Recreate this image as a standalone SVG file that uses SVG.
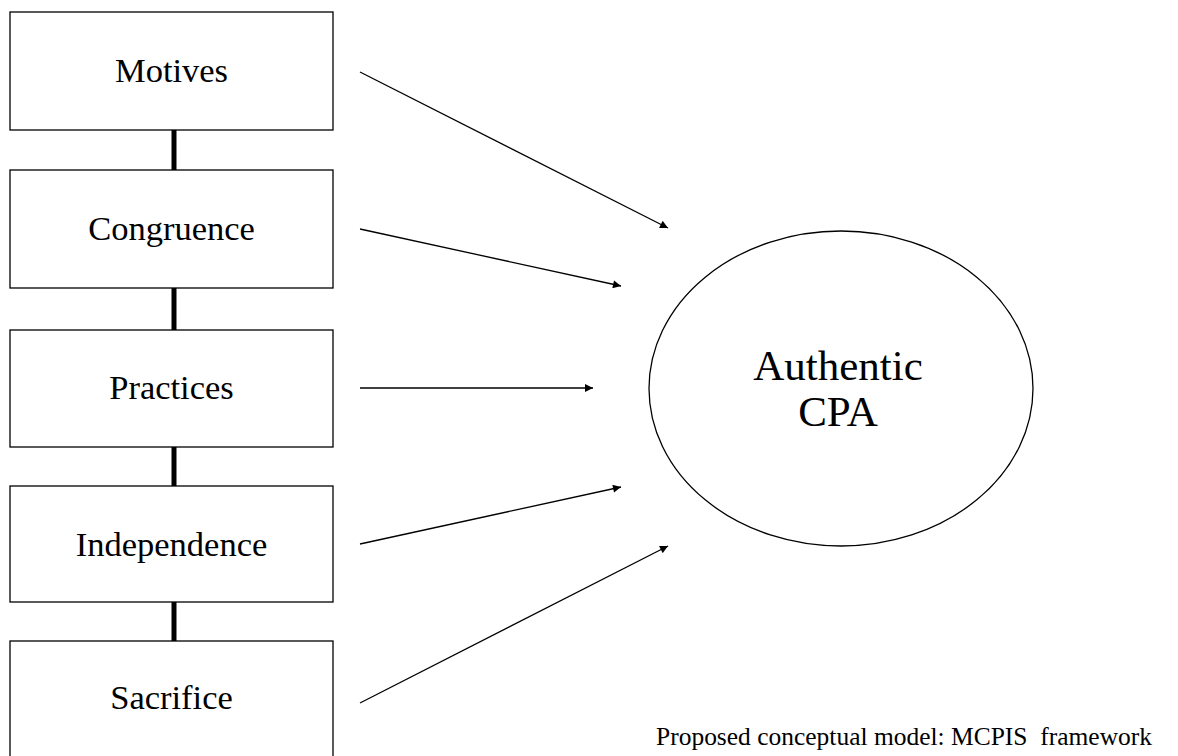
<svg xmlns="http://www.w3.org/2000/svg" width="1178" height="756" viewBox="0 0 1178 756">
<style>
.box{fill:#fff;stroke:#000;stroke-width:1.3}
.lbl{font-family:"Liberation Serif","Times New Roman",serif;font-size:34.5px;fill:#000;text-anchor:middle}
.big{font-family:"Liberation Serif","Times New Roman",serif;font-size:43px;fill:#000;text-anchor:middle}
.cap{font-family:"Liberation Serif","Times New Roman",serif;font-size:26px;fill:#000}
.arr{stroke:#000;stroke-width:1.3;fill:none;marker-end:url(#ah)}
.link{stroke:#000;stroke-width:5}
</style>
<defs>
<marker id="ah" viewBox="0 0 10 10" refX="10" refY="5" markerWidth="10" markerHeight="8" markerUnits="userSpaceOnUse" orient="auto">
<path d="M0,0 L10,5 L0,10 Z" fill="#000"/>
</marker>
</defs>
<rect width="1178" height="756" fill="#fff"/>
<g id="connectors">
<line class="link" x1="174" y1="130" x2="174" y2="170"/>
<line class="link" x1="174" y1="288" x2="174" y2="330"/>
<line class="link" x1="174" y1="447" x2="174" y2="486"/>
<line class="link" x1="174" y1="602" x2="174" y2="641"/>
<line class="arr" x1="360" y1="72" x2="668" y2="228"/>
<line class="arr" x1="360" y1="229" x2="621" y2="286"/>
<line class="arr" x1="360" y1="388" x2="593" y2="388"/>
<line class="arr" x1="360" y1="544" x2="621" y2="487"/>
<line class="arr" x1="360" y1="703" x2="668" y2="546"/>
</g>
<g id="motives"><rect class="box" x="10" y="12" width="323" height="118"/><text class="lbl" x="171.5" y="82">Motives</text></g>
<g id="congruence"><rect class="box" x="10" y="170" width="323" height="118"/><text class="lbl" x="171.5" y="240">Congruence</text></g>
<g id="practices"><rect class="box" x="10" y="330" width="323" height="117"/><text class="lbl" x="171.5" y="399">Practices</text></g>
<g id="independence"><rect class="box" x="10" y="486" width="323" height="116"/><text class="lbl" x="171.5" y="556">Independence</text></g>
<g id="sacrifice"><rect class="box" x="10" y="641" width="323" height="120"/><text class="lbl" x="171.5" y="709">Sacrifice</text></g>
<g id="authentic-cpa"><ellipse cx="841" cy="388.5" rx="192" ry="157.5" fill="#fff" stroke="#000" stroke-width="1.3"/><text class="big" x="838" y="380">Authentic</text><text class="big" x="838" y="426">CPA</text></g>
<g id="caption"><text class="cap" x="656" y="745" xml:space="preserve" textLength="496" lengthAdjust="spacingAndGlyphs">Proposed conceptual model: MCPIS  framework</text></g>
</svg>
